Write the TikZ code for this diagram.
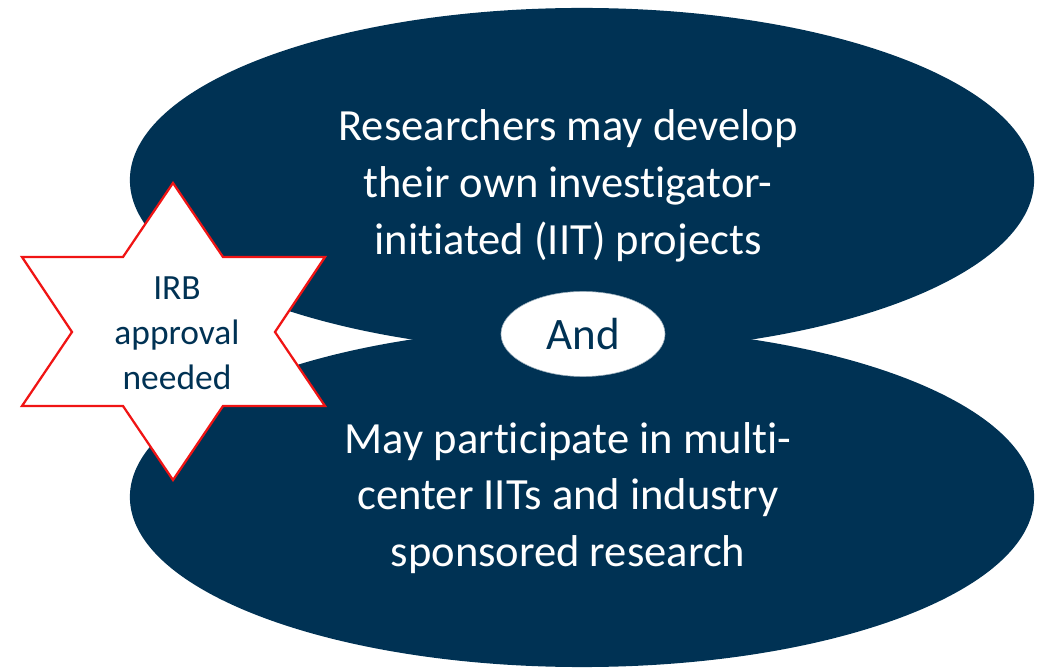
\documentclass[tikz,border=0pt]{standalone}
\usepackage{fontspec}
\setmainfont[Ligatures=NoCommon]{Carlito}
\usetikzlibrary{shapes.geometric}
\definecolor{navy}{RGB}{0,50,84}
\definecolor{starred}{RGB}{240,20,20}
\tikzset{
  bigoval/.style={ellipse, fill=navy, draw=none, inner sep=0pt, minimum width=22.6cm},
  bigtext/.style={text=white, align=center, font=\fontsize{31.7}{40.4}\selectfont},
  andoval/.style={ellipse, fill=white, draw=navy!40, line width=0.4pt, inner sep=0pt, minimum width=4.1cm, minimum height=2.125cm, text=navy, font=\fontsize{32}{40.4}\selectfont},
  startext/.style={text=navy, align=center, font=\fontsize{25.2}{32}\selectfont},
  starline/.style={draw=starred, fill=white, line width=1.6pt, line join=miter}
}
\begin{document}
\begin{tikzpicture}[x=0.025cm, y=-0.025cm]
\useasboundingbox (0,0) rectangle (1048,669);
\node[bigoval, minimum height=8.6cm] (top) at (582,180) {};
\node[bigoval, minimum height=8.5cm] (bot) at (582,497) {};
\node[bigtext] (toptext) at (568,186) {Researchers may develop\\their own investigator-\\initiated (IIT) projects};
\node[bigtext] (bottext) at (568,498) {May participate in multi-\\center IITs and industry\\sponsored research};
\draw[starline] (173,183) -- (223,257) -- (325,257) -- (275,332) -- (325,406) -- (223,406)
  -- (173,480) -- (123,406) -- (22,406) -- (72,332) -- (22,257) -- (123,257) -- cycle;
\node[startext] (irb) at (177,333) {IRB\\approval\\needed};
\node[andoval] (and) at (583,334) {And};
\end{tikzpicture}
\end{document}
